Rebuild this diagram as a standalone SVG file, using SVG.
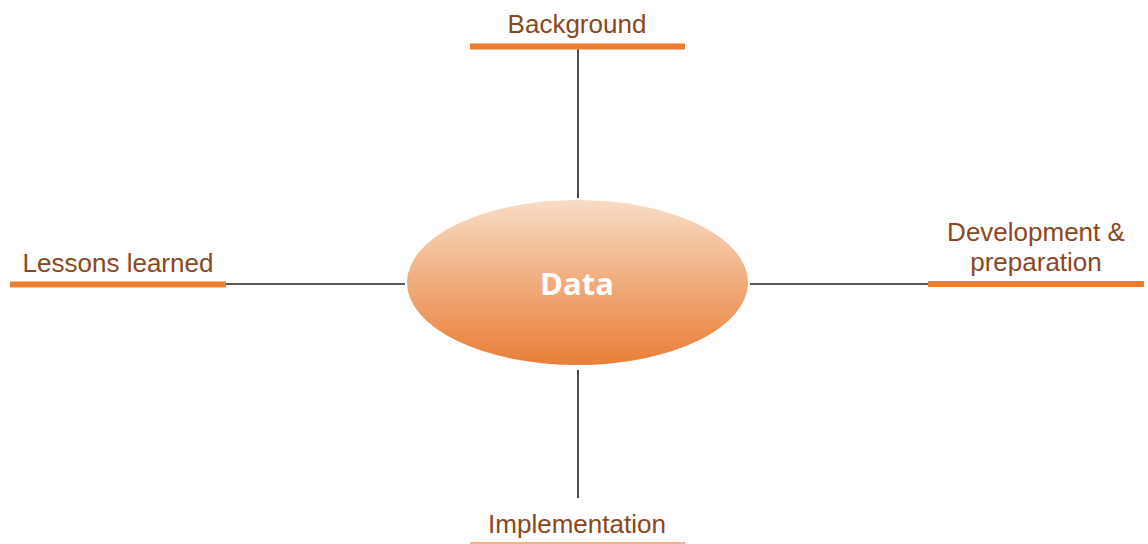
<svg xmlns="http://www.w3.org/2000/svg" width="1148" height="544" viewBox="0 0 1148 544">
<style>
.lbl{font-family:"Liberation Sans",Arial,sans-serif;font-size:26px;fill:#8A4722;text-anchor:middle}
.bar{stroke:#ED7D31;stroke-width:6}
.conn{stroke:#222;stroke-width:1.6;fill:none}
</style>
<defs>
<linearGradient id="g" x1="0" y1="0" x2="0" y2="1">
<stop offset="0" stop-color="#F8DCC6"/>
<stop offset="0.5" stop-color="#F0AC7C"/>
<stop offset="1" stop-color="#E97E38"/>
</linearGradient>
</defs>
<rect width="1148" height="544" fill="#fff"/>
<g id="connectors">
<line class="conn" x1="578" y1="48" x2="578" y2="198"/>
<line class="conn" x1="226" y1="284" x2="405" y2="284"/>
<line class="conn" x1="750" y1="284" x2="930" y2="284"/>
<line class="conn" x1="578" y1="370" x2="578" y2="498"/>
</g>
<g id="data">
<ellipse cx="577.5" cy="282.5" rx="170.5" ry="82.5" fill="url(#g)"/>
<text x="577" y="295" style="font-family:'Open Sans','Liberation Sans',sans-serif;font-size:31px;font-weight:bold;fill:#fff;text-anchor:middle">Data</text>
</g>
<g id="background">
<line class="bar" x1="470" y1="46.5" x2="685" y2="46.5"/>
<text class="lbl" x="577" y="33">Background</text>
</g>
<g id="lessons">
<line class="bar" x1="10" y1="284.5" x2="226" y2="284.5"/>
<text class="lbl" x="118" y="272">Lessons learned</text>
</g>
<g id="development">
<line class="bar" x1="928" y1="284" x2="1144" y2="284"/>
<text class="lbl" x="1036" y="241">Development &amp;</text>
<text class="lbl" x="1036" y="271">preparation</text>
</g>
<g id="implementation">
<line x1="470" y1="543" x2="685" y2="543" stroke="#F4B183" stroke-width="2"/>
<text class="lbl" x="577" y="533">Implementation</text>
</g>
</svg>
